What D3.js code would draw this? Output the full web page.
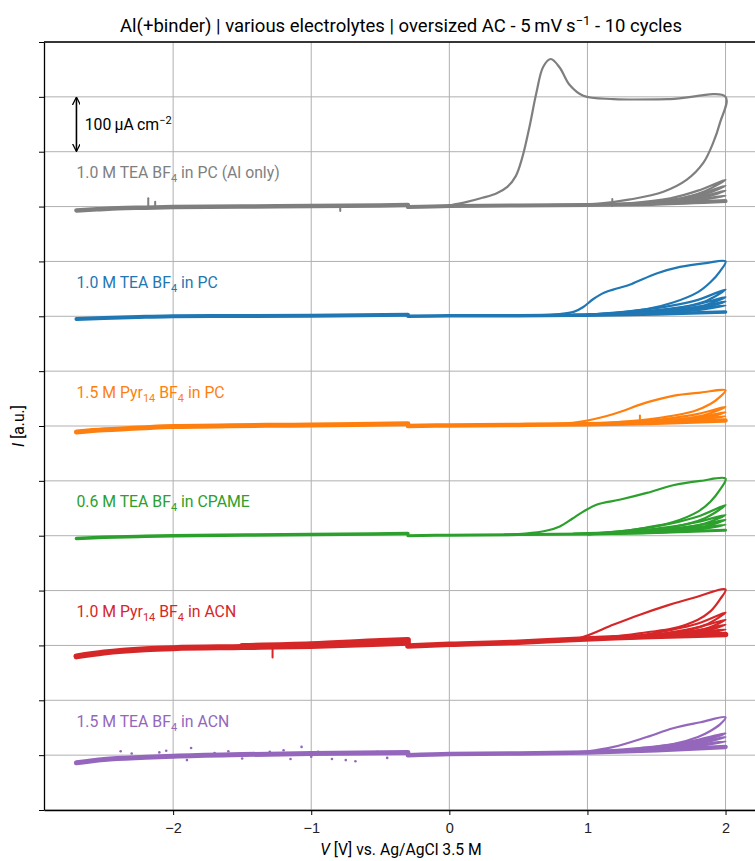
<!DOCTYPE html>
<html>
<head>
<meta charset="utf-8">
<script src="https://cdn.jsdelivr.net/npm/d3@7"></script>
<style>
  body { margin: 0; background: #fff; }
  svg { font-family: Roboto, "DejaVu Sans", sans-serif; }
</style>
</head>
<body>
<div id="chart"></div>
<script>
var W = 755, H = 861;
var margin = {top: 42, right: -3, bottom: 51, left: 44};

// electrolytes, top to bottom ("_" marks a subscript)
var labels = ["1.0 M TEA BF_4_ in PC (Al only)", "1.0 M TEA BF_4_ in PC", "1.5 M Pyr_14_ BF_4_ in PC",
              "0.6 M TEA BF_4_ in CPAME", "1.0 M Pyr_14_ BF_4_ in ACN", "1.5 M TEA BF_4_ in ACN"];
var colors = ["#7f7f7f", "#1f77b4", "#ff7f0e", "#2ca02c", "#d62728", "#9467bd"];
var offsets = [1100, 900, 700, 500, 300, 100];   // µA cm-2 shift of each trace
var xTicks = [-2, -1, 0, 1, 2];

// baseline parts: scan from -2.7 V up to the -0.3 V start point, and from -0.3 V on
var grayLeft = [[-2.7,-7],[-2.55,-5],[-2.4,-3],[-2.2,-2],[-2.0,-1],[-1.5,0],[-1.0,1],[-0.5,2],[-0.3,3]];
var grayRight = [[-0.3,-1],[0,1],[0.5,2],[1.0,3],[1.5,5],[2.0,10]];
var blueLeft = [[-2.7,-5],[-2.5,-3],[-2.2,-1],[-2.0,0],[-1.0,1],[-0.3,3]];
var blueRight = [[-0.3,0],[0,1],[0.5,1],[1.0,2],[1.5,4],[2.0,8]];
var orangeLeft = [[-2.7,-11],[-2.5,-7],[-2.2,-3],[-2.0,-1],[-1.0,2],[-0.3,4]];
var orangeRight = [[-0.3,0],[0,1],[0.5,2],[1.0,3],[1.5,6],[2.0,10]];
var greenLeft = [[-2.7,-5],[-2.5,-3],[-2.2,-1],[-2.0,0],[-1.0,2],[-0.3,4]];
var greenRight = [[-0.3,0],[0,1],[0.5,2],[1.0,3],[1.5,6],[2.0,10]];
var redLeft = [[-2.7,-20],[-2.5,-13],[-2.2,-7],[-2.0,-5],[-1.5,-3],[-1.0,-1],[-0.5,3],[-0.3,5]];
var redLeftUpper = [[-1.5,-1],[-1.0,2],[-0.5,8],[-0.3,10]];
var redRight = [[-0.3,-1],[0,2],[0.5,6],[0.9,11],[1.2,14],[1.6,17],[2.0,20]];
var purpleLeft = [[-2.7,-14],[-2.5,-8],[-2.2,-4],[-2.0,-2],[-1.5,1],[-1.0,3],[-0.3,5]];
var purpleRight = [[-0.3,0],[0,2],[0.5,3],[1.0,5],[1.5,9],[2.0,15]];

// first cycle: forward sweep to 2 V and back
var grayFirst = [[0,2],[0.12,8],[0.24,16],[0.34,24],[0.42,36],[0.48,55],[0.53,91],[0.58,145],[0.63,207],[0.68,255],[0.735,269],
                 [0.80,253],[0.87,222],[0.97,202],[1.19,196],[1.6,196],[2.0,200],
                 [1.96,153],[1.91,116],[1.84,80],[1.72,49],[1.55,27],[1.31,13],[1.07,5],[0.8,3],[0.4,2]];
var blueFirst = [[0.6,2],[0.8,4],[0.9,8],[0.97,17],[1.04,31],[1.12,43],[1.22,51],[1.32,59],[1.50,78],[1.67,90],[1.86,97],[2.0,100],
                 [1.96,82],[1.89,62],[1.80,44],[1.62,25],[1.43,13],[1.19,6],[0.9,3]];
var orangeFirst = [[0.7,3],[0.85,5],[1.0,10],[1.19,22],[1.43,43],[1.62,55],[1.82,61],[2.0,65],
                   [1.96,53],[1.89,40],[1.77,27],[1.55,16],[1.31,9],[1.0,4]];
var greenFirst = [[0.4,2],[0.55,4],[0.70,9],[0.80,17],[0.89,31],[0.97,44],[1.07,57],[1.24,66],[1.43,78],[1.62,92],[1.82,100],[2.0,104],
                  [1.96,84],[1.89,62],[1.80,44],[1.62,25],[1.43,15],[1.19,7],[0.9,4]];
var redFirst = [[0.8,10],[0.95,14],[1.19,38],[1.38,56],[1.58,73],[1.77,87],[2.0,102],
                [1.96,84],[1.89,62],[1.80,47],[1.62,31],[1.43,24],[1.19,16],[1.0,13]];
var purpleFirst = [[0.9,5],[1.0,7],[1.19,15],[1.43,33],[1.62,49],[1.82,60],[2.0,69],
                   [1.96,56],[1.89,44],[1.80,33],[1.62,20],[1.38,13],[1.1,8]];

// later cycles (2..10), each forward + back above 1 V
var grayLater = [
  [[1.0,3],[1.3,6],[1.6,15],[1.8,29],[2.0,49],[1.85,28],[1.6,11],[1.3,5],[1.0,3]],
  [[1.0,3],[1.3,5],[1.6,12],[1.8,22],[2.0,38],[1.85,22],[1.6,9],[1.3,4],[1.0,3]],
  [[1.0,3],[1.3,5],[1.6,10],[1.8,17],[2.0,29],[1.85,17],[1.6,8],[1.3,4],[1.0,3]],
  [[1.0,3],[1.3,4],[1.6,8],[1.8,13],[2.0,20],[1.85,13],[1.6,6],[1.3,4],[1.0,3]]];
var blueLater = [
  [[1.0,3],[1.3,9],[1.6,19],[1.8,30],[2.0,49],[1.85,27],[1.6,13],[1.3,6],[1.0,3]],
  [[1.0,3],[1.3,7],[1.6,14],[1.8,22],[2.0,35],[1.85,20],[1.6,10],[1.3,5],[1.0,3]],
  [[1.0,3],[1.3,6],[1.6,11],[1.8,17],[2.0,27],[1.85,16],[1.6,8],[1.3,4],[1.0,3]],
  [[1.0,3],[1.3,5],[1.6,9],[1.8,14],[2.0,20],[1.85,13],[1.6,7],[1.3,4],[1.0,3]]];
var orangeLater = [
  [[1.0,3],[1.3,7],[1.6,14],[1.8,22],[2.0,35],[1.85,20],[1.6,10],[1.3,5],[1.0,3]],
  [[1.0,3],[1.3,6],[1.6,11],[1.8,16],[2.0,25],[1.85,15],[1.6,8],[1.3,5],[1.0,3]],
  [[1.0,3],[1.3,5],[1.6,9],[1.8,13],[2.0,18],[1.85,12],[1.6,7],[1.3,4],[1.0,3]]];
var greenLater = [
  [[1.0,3],[1.3,10],[1.6,22],[1.8,35],[2.0,56],[1.85,32],[1.6,15],[1.3,7],[1.0,3]],
  [[1.0,3],[1.3,8],[1.6,16],[1.8,25],[2.0,38],[1.85,22],[1.6,11],[1.3,6],[1.0,3]],
  [[1.0,3],[1.3,7],[1.6,13],[1.8,19],[2.0,29],[1.85,17],[1.6,9],[1.3,5],[1.0,3]],
  [[1.0,3],[1.3,5],[1.6,10],[1.8,14],[2.0,20],[1.85,13],[1.6,7],[1.3,4],[1.0,3]]];
var redLater = [
  [[1.0,12],[1.3,16],[1.6,28],[1.8,40],[2.0,60],[1.85,37],[1.6,22],[1.3,15],[1.0,12]],
  [[1.0,12],[1.3,15],[1.6,24],[1.8,33],[2.0,47],[1.85,30],[1.6,20],[1.3,14],[1.0,12]],
  [[1.0,12],[1.3,15],[1.6,21],[1.8,28],[2.0,38],[1.85,26],[1.6,18],[1.3,14],[1.0,12]],
  [[1.0,12],[1.3,14],[1.6,19],[1.8,24],[2.0,29],[1.85,22],[1.6,17],[1.3,13],[1.0,12]]];
var purpleLater = [
  [[1.0,5],[1.3,10],[1.6,19],[1.8,28],[2.0,40],[1.85,27],[1.6,16],[1.3,9],[1.0,5]],
  [[1.0,5],[1.3,9],[1.6,16],[1.8,23],[2.0,33],[1.85,23],[1.6,14],[1.3,8],[1.0,5]],
  [[1.0,5],[1.3,8],[1.6,13],[1.8,19],[2.0,25],[1.85,18],[1.6,12],[1.3,8],[1.0,5]]];

// short current glitches: [series, V, from, to]
var glitches = [[0,-2.18,-1,15],[0,-2.13,-1,9],[0,-0.79,2,-8],[0,1.18,1,14],[2,1.38,12,19],[4,-1.28,0,-22]];
// scattered points on the ACN trace
var purpleDots = [[-2.38,7],[-2.3,3],[-2.1,5],[-1.87,13],[-1.9,-9],[-1.7,4],[-1.5,-6],[-1.3,6],[-1.07,15],
                  [-1.15,-7],[-0.85,-7],[-0.68,-11],[-0.6,4],[-0.45,-5],[-2.2,-4],[-1.0,-3],
                  [-2.05,8],[-1.6,7],[-1.2,9],[-0.95,6],[-0.75,-9],[-0.52,6]];

var series = [
  {left: [grayLeft], right: grayRight, first: grayFirst, later: grayLater, lw: 4.5},
  {left: [blueLeft], right: blueRight, first: blueFirst, later: blueLater, lw: 4},
  {left: [orangeLeft], right: orangeRight, first: orangeFirst, later: orangeLater, lw: 5},
  {left: [greenLeft], right: greenRight, first: greenFirst, later: greenLater, lw: 3.5},
  {left: [redLeft, redLeftUpper], right: redRight, first: redFirst, later: redLater, lw: 6},
  {left: [purpleLeft], right: purpleRight, first: purpleFirst, later: purpleLater, lw: 5}
];

var x = d3.scaleLinear().domain([-2.935, 2.235]).range([margin.left, W - margin.right]);
var y = d3.scaleLinear().domain([0, 1400]).range([H - margin.bottom, margin.top]);

var svg = d3.select("#chart").append("svg")
    .attr("width", W)
    .attr("height", H);

svg.append("defs").append("marker")
    .attr("id", "head")
    .attr("viewBox", "0 0 10 10")
    .attr("refX", 9).attr("refY", 5)
    .attr("markerWidth", 8).attr("markerHeight", 8)
    .attr("markerUnits", "userSpaceOnUse")
    .attr("orient", "auto-start-reverse")
  .append("path")
    .attr("d", "M0,0 L10,5 L0,10")
    .attr("fill", "none")
    .attr("stroke", "#000")
    .attr("stroke-width", 1.6);

// grid
svg.append("g")
  .selectAll("line")
  .data(d3.range(0, 1401, 100))
  .join("line")
    .attr("x1", margin.left).attr("x2", W)
    .attr("y1", d => y(d)).attr("y2", d => y(d))
    .attr("stroke", "#b0b0b0").attr("stroke-width", 1);
svg.append("g")
  .selectAll("line")
  .data(xTicks)
  .join("line")
    .attr("x1", d => x(d)).attr("x2", d => x(d))
    .attr("y1", y(0)).attr("y2", y(1400))
    .attr("stroke", "#b0b0b0").attr("stroke-width", 1);

var baseLine = d3.line()
    .x(d => x(d[0]))
    .curve(d3.curveMonotoneX);
var loopLine = d3.line()
    .x(d => x(d[0]))
    .curve(d3.curveCatmullRom.alpha(0.5));

series.forEach((s, i) => {
  var off = offsets[i];
  baseLine.y(d => y(d[1] + off));
  loopLine.y(d => y(d[1] + off));
  var g = svg.append("g")
      .attr("fill", "none")
      .attr("stroke", colors[i])
      .attr("stroke-linecap", "round")
      .attr("stroke-linejoin", "round");

  s.left.forEach(part => {
    g.append("path").attr("d", baseLine(part)).attr("stroke-width", s.lw);
  });
  g.append("path").attr("d", baseLine(s.right)).attr("stroke-width", s.lw - 0.5);
  s.later.forEach(c => {
    g.append("path").attr("d", loopLine(c)).attr("stroke-width", 2.2);
  });
  g.append("path").attr("d", loopLine(s.first)).attr("stroke-width", 2.2);

  g.selectAll("line.glitch")
    .data(glitches.filter(d => d[0] == i))
    .join("line")
      .attr("x1", d => x(d[1])).attr("x2", d => x(d[1]))
      .attr("y1", d => y(d[2] + off)).attr("y2", d => y(d[3] + off))
      .attr("stroke-width", 2);

  // label with subscripts
  var t = svg.append("text")
      .attr("x", x(-2.7))
      .attr("y", y(off + 62))
      .attr("dy", "0.35em")
      .attr("fill", colors[i])
      .style("font-size", "15.8px");
  labels[i].split("_").forEach((part, k) => {
    var sp = t.append("tspan").text(part);
    if (k % 2 == 1) sp.attr("font-size", "11px").attr("dy", 4);
    else if (k > 0) sp.attr("dy", -4);
  });
});

svg.append("g")
  .attr("fill", colors[5])
  .attr("stroke", "none")
  .selectAll("circle")
  .data(purpleDots)
  .join("circle")
    .attr("cx", d => x(d[0]))
    .attr("cy", d => y(d[1] + offsets[5]))
    .attr("r", 1.3);

// scale bar
svg.append("line")
    .attr("x1", x(-2.7)).attr("x2", x(-2.7))
    .attr("y1", y(1200) - 1).attr("y2", y(1300) + 1)
    .attr("stroke", "#000").attr("stroke-width", 1.6)
    .attr("marker-start", "url(#head)")
    .attr("marker-end", "url(#head)");
var sb = svg.append("text")
    .attr("x", x(-2.64))
    .attr("y", y(1250))
    .attr("dy", "0.35em")
    .style("font-size", "15.8px")
    .text("100\u2009µA\u2009cm");
sb.append("tspan").attr("font-size", "11px").attr("dy", -6).text("\u22122");

// axes
svg.append("g")
    .attr("transform", `translate(0,${y(0)})`)
    .call(d3.axisBottom(x).tickValues(xTicks).tickSize(5).tickSizeOuter(0).tickFormat(d => d < 0 ? "\u2212" + (-d) : d))
    .call(g => g.select(".domain").attr("stroke-width", 1.3))
    .call(g => g.selectAll(".tick text").style("font-size", "14.5px").attr("fill", "#222").attr("dy", "1.0em"));
svg.append("g")
    .attr("transform", `translate(${margin.left},0)`)
    .call(d3.axisLeft(y).tickValues(d3.range(0, 1401, 100)).tickSize(5).tickSizeOuter(0).tickFormat(""))
    .call(g => g.select(".domain").attr("stroke-width", 1.3));
svg.append("line")
    .attr("x1", margin.left).attr("x2", W)
    .attr("y1", y(1400)).attr("y2", y(1400))
    .attr("stroke", "#000").attr("stroke-width", 1.3);

// titles
var title = svg.append("text")
    .attr("x", (margin.left + W - margin.right) / 2)
    .attr("y", 32)
    .attr("text-anchor", "middle")
    .style("font-size", "18.5px")
    .text("Al(+binder) | various electrolytes | oversized AC - 5\u2009mV\u2009s");
title.append("tspan").attr("font-size", "13px").attr("dy", -7).text("\u22121");
title.append("tspan").attr("dy", 7).text(" - 10 cycles");

var xl = svg.append("text")
    .attr("x", (margin.left + W - margin.right) / 2)
    .attr("y", 855)
    .attr("text-anchor", "middle")
    .style("font-size", "15.7px");
xl.append("tspan").style("font-style", "italic").text("V");
xl.append("tspan").text(" [V] vs. Ag/AgCl 3.5 M");

var yl = svg.append("text")
    .attr("transform", `translate(24,${(y(0) + y(1400)) / 2}) rotate(-90)`)
    .attr("text-anchor", "middle")
    .style("font-size", "15.7px");
yl.append("tspan").style("font-style", "italic").text("I");
yl.append("tspan").text(" [a.u.]");
</script>
</body>
</html>
